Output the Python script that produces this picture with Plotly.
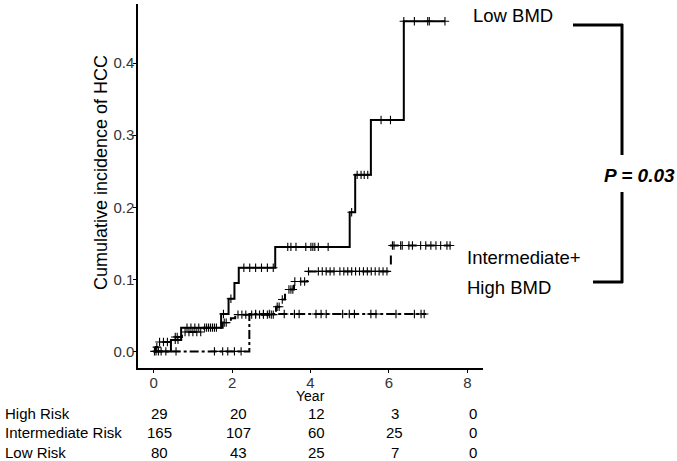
import numpy as np
import plotly.graph_objects as go

# ---------------- data ----------------
# Low BMD (solid)
low_times = [0, 0.44, 0.70, 1.72, 1.91, 2.06, 2.17, 3.10, 5.00, 5.14, 5.54, 6.38]
low_cum = [0, 0.016, 0.033, 0.052, 0.073, 0.095, 0.116, 0.145, 0.193, 0.245, 0.321, 0.458]
low_end = 7.43
low_censor = [0.55, 0.62, 0.85, 0.95, 1.05, 1.15, 1.3, 1.4, 1.5, 1.6, 1.78, 1.97,
              2.3, 2.45, 2.6, 2.75, 2.9, 3.05, 3.42, 3.5, 3.63, 3.88, 4.01, 4.06,
              4.11, 4.2, 4.45, 5.05, 5.19, 5.29, 5.37, 5.46, 5.8, 6.04, 6.38,
              6.65, 6.99, 7.03, 7.43]

# Intermediate BMD (dashed)
int_times = [0, 0.05, 0.12, 0.47, 0.72, 1.28, 1.76, 1.97, 2.08, 3.12, 3.25, 3.35,
             3.45, 3.58, 3.92, 6.05]
int_cum = [0, 0.006, 0.013, 0.020, 0.027, 0.033, 0.040, 0.046, 0.051, 0.062, 0.072,
           0.080, 0.086, 0.097, 0.111, 0.147]
int_end = 7.58
int_censor = [0.02, 0.08, 0.15, 0.25, 0.35, 0.55, 0.6, 0.8, 0.9, 1.0, 1.1, 1.2,
              1.35, 1.45, 1.55, 1.8, 1.85, 2.15, 2.25, 2.35, 2.5, 2.6, 2.7, 2.8,
              2.9, 3.0, 3.05, 3.15, 3.2, 3.28, 3.45, 3.5, 3.55, 3.6, 3.75, 3.85,
              3.95, 4.2, 4.3, 4.4, 4.5, 4.6, 4.75, 4.85, 4.95, 5.05, 5.15, 5.25,
              5.35, 5.45, 5.55, 5.65, 5.75, 5.85, 5.95, 6.09, 6.13, 6.3, 6.34,
              6.51, 6.6, 6.81, 6.94, 7.07, 7.2, 7.32, 7.48, 7.56]

# High BMD (dash-dot)
high_times = [0, 2.44]
high_cum = [0, 0.052]
high_end = 6.95
high_censor = [0.06, 0.12, 0.19, 0.31, 0.57, 1.55, 1.76, 1.89, 2.06, 2.23, 2.6,
               2.8, 2.95, 3.33, 3.59, 3.71, 4.14, 4.27, 4.4, 4.82, 4.99, 5.12,
               5.54, 5.67, 6.18, 6.65, 6.82, 6.9]

# number at risk table
risk_years = [0, 2, 4, 6, 8]
risk_labels = ["High Risk", "Intermediate Risk", "Low Risk"]
risk_high = [29, 20, 12, 3, 0]
risk_int = [165, 107, 60, 25, 0]
risk_low = [80, 43, 25, 7, 0]

y_ticks = [0.0, 0.1, 0.2, 0.3, 0.4]
x_ticks = [0, 2, 4, 6, 8]

FONT = "Liberation Sans, Arial, sans-serif"

# ---------------- figure ----------------
fig = go.Figure()


def step_at(times, cum, t):
    idx = np.searchsorted(np.array(times), np.array(t), side="right") - 1
    return np.array(cum)[idx]


curves = [
    (low_times, low_cum, low_end, low_censor, "solid", "Low BMD"),
    (int_times, int_cum, int_end, int_censor, "dash", "Intermediate BMD"),
    (high_times, high_cum, high_end, high_censor, "dashdot", "High BMD"),
]

for times, cum, end, cens, dash, name in curves:
    xs = list(times) + [end]
    ys = list(cum) + [cum[-1]]
    fig.add_trace(go.Scatter(x=xs, y=ys, mode="lines", line_shape="hv",
                             line=dict(color="black", width=2, dash=dash),
                             name=name, showlegend=False))
    fig.add_trace(go.Scatter(x=cens, y=step_at(times, cum, cens), mode="markers",
                             marker=dict(symbol="cross-thin", size=6,
                                         line=dict(color="black", width=1.1)),
                             name=name + " censored", showlegend=False))

fig.update_layout(
    width=677, height=461,
    margin=dict(l=138, r=194, t=4, b=93),
    paper_bgcolor="white", plot_bgcolor="white",
    font=dict(family=FONT, color="black"),
    showlegend=False,
)
fig.update_xaxes(range=[-0.4, 8.4], tickvals=x_ticks, ticktext=[str(v) for v in x_ticks],
                 showline=True, linecolor="black", linewidth=1.5, showgrid=False,
                 zeroline=False, ticks="outside", ticklen=3, tickcolor="black",
                 ticklabelstandoff=-3,
                 tickfont=dict(size=15, color="#333333", family=FONT))
fig.update_yaxes(range=[-0.023, 0.482], tickvals=y_ticks,
                 ticktext=[f"{v:.1f}" for v in y_ticks],
                 showline=True, linecolor="black", linewidth=1.5, showgrid=False,
                 zeroline=False, ticks="outside", ticklen=3, tickcolor="black",
                 ticklabelstandoff=-4,
                 tickfont=dict(size=15, color="#333333", family=FONT))

ann = []
# axis titles
ann.append(dict(text="Year", xref="paper", yref="paper", x=0.5, y=0, yshift=-28,
                xanchor="center", yanchor="middle", showarrow=False, borderpad=0,
                font=dict(size=14, family=FONT, color="black")))
ann.append(dict(text="Cumulative incidence of HCC", xref="paper", yref="paper",
                x=0, xshift=-37, y=0.5, yshift=13, textangle=-90, xanchor="center",
                yanchor="middle", showarrow=False,
                font=dict(size=18, family=FONT, color="black")))

# risk table
row_shift = [-45, -64.5, -84]
for label, vals, ys in zip(risk_labels, [risk_high, risk_int, risk_low], row_shift):
    ann.append(dict(text=label, xref="paper", yref="paper", x=0, xshift=-134,
                    y=0, yshift=ys, xanchor="left", yanchor="middle", borderpad=0,
                    showarrow=False, font=dict(size=15, family=FONT, color="black")))
    for yr, v in zip(risk_years, vals):
        ann.append(dict(text=str(v), xref="x", yref="paper", x=yr, xshift=6,
                        y=0, yshift=ys, xanchor="center", yanchor="middle",
                        showarrow=False, borderpad=0,
                        font=dict(size=15, family=FONT, color="black")))

# group labels
ann.append(dict(text="Low BMD", xref="paper", yref="paper", x=1, xshift=-12,
                y=1, yshift=-11, xanchor="left", yanchor="middle", showarrow=False,
                font=dict(size=18.5, family=FONT, color="black")))
ann.append(dict(text="Intermediate+", xref="paper", yref="paper", x=1, xshift=-18,
                y=0, yshift=111, xanchor="left", yanchor="middle", showarrow=False,
                font=dict(size=18.5, family=FONT, color="black")))
ann.append(dict(text="High BMD", xref="paper", yref="paper", x=1, xshift=-18,
                y=0, yshift=81, xanchor="left", yanchor="middle", showarrow=False,
                font=dict(size=18.5, family=FONT, color="black")))
ann.append(dict(text="<b><i>P = 0.03</i></b>", xref="paper", yref="paper", x=1,
                xshift=156, y=0, yshift=193, xanchor="center", yanchor="middle",
                showarrow=False, font=dict(size=19, family=FONT, color="black")))
fig.update_layout(annotations=ann)


# bracket (pixel -> paper)
def px(xp):
    return (xp - 138) / 345


def py(yp):
    return (368 - yp) / 364


br = dict(color="black", width=3)
shapes = [
    dict(type="line", xref="paper", yref="paper", x0=px(573), x1=px(623), y0=py(25), y1=py(25), line=br),
    dict(type="line", xref="paper", yref="paper", x0=px(622), x1=px(622), y0=py(24), y1=py(155), line=br),
    dict(type="line", xref="paper", yref="paper", x0=px(622), x1=px(622), y0=py(192), y1=py(283), line=br),
    dict(type="line", xref="paper", yref="paper", x0=px(593), x1=px(623), y0=py(282), y1=py(282), line=br),
]
fig.update_layout(shapes=shapes)

fig.write_html("out.html", config={"displayModeBar": False},
               post_script="document.body.style.margin='0';document.body.style.overflow='hidden';")
